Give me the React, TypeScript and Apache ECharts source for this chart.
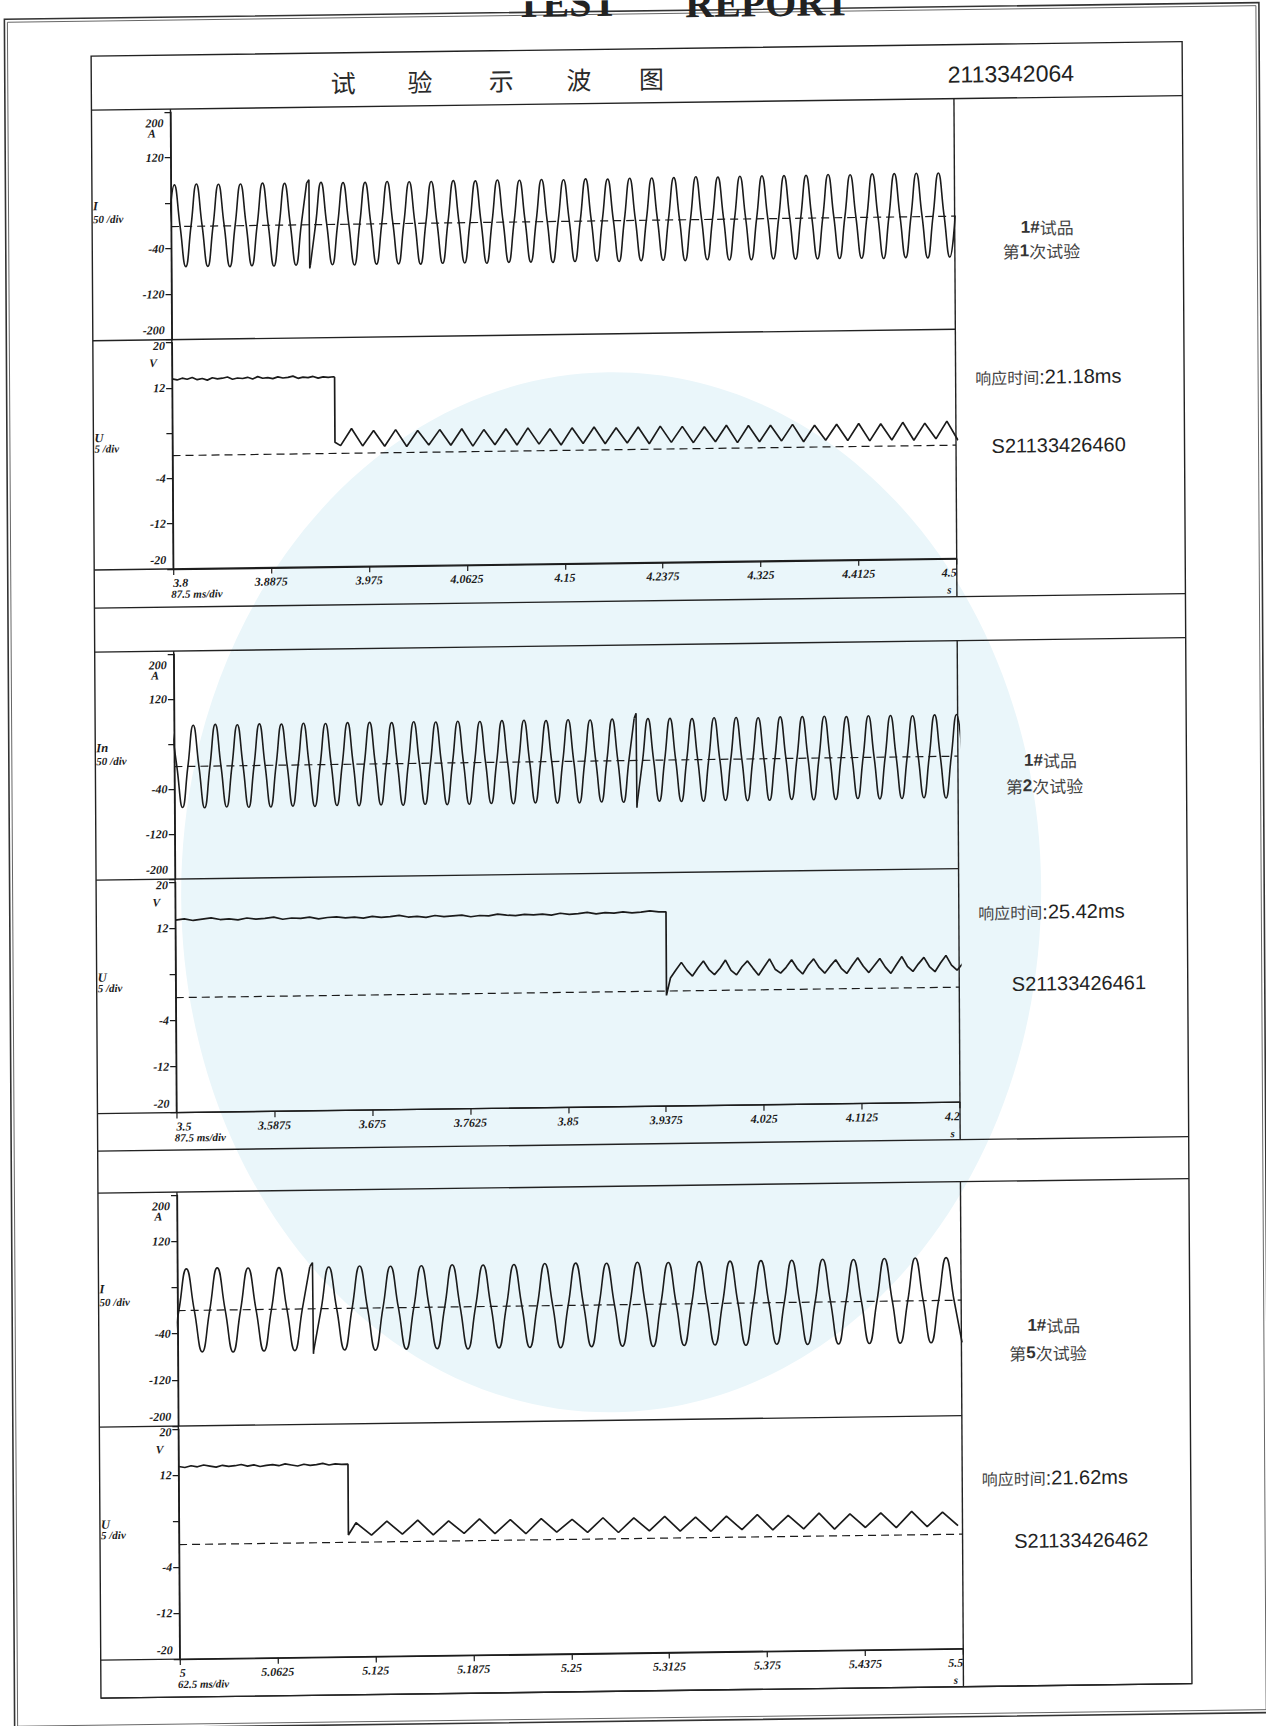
import React, { useEffect, useRef } from 'react';
import * as echarts from 'echarts';

// ---------------- texts ----------------
const TOP_WORDS = ['TEST', 'REPORT'];
const TITLE_CHARS = ['试', '验', '示', '波', '图'];
const REPORT_NO = '2113342064';
const SAMPLE_NAME = ['1#试品', '1#试品', '1#试品'];
const TRIAL_NO = ['1', '2', '5'];
const RESPONSE_MS = ['21.18', '25.42', '21.62'];
const SERIAL_NO = ['S21133426460', 'S21133426461', 'S21133426462'];
const I_AXIS_NAME = ['I', 'In', 'I'];
const X_DIV_LABEL = ['87.5 ms/div', '87.5 ms/div', '62.5 ms/div'];

// ---------------- axes ----------------
const X_MIN = [3.8, 3.5, 5];
const X_MAX = [4.5, 4.2, 5.5];
const X_INTERVAL = [0.0875, 0.0875, 0.0625];
const I_MIN = -200, I_MAX = 200, I_INTERVAL = 80, I_HIDDEN_TICK = 40;
const U_MIN = -20, U_MAX = 20, U_INTERVAL = 8, U_HIDDEN_TICK = 4;

// ---------------- current traces (A), sampled every quarter period ----------------
const I_STEP = 0.004925;
const I1_PRE_T0 = 3.7981;
const I1_PRE = [0, 72, 0, -72, 0, 73, 0, -72, 0, 72, 0, -73, 0, 72, 0, -72, 0, 73, 0, -73, 0, 72, 0, -72, 0, 72];
const I1_GLITCH = [[3.9212, 72], [3.9233, 78], [3.9236, -78], [3.9242, -72]];
const I1_POST_T0 = 3.9242;
const I1_POST = [
  -72, 0, 73, 0, -72, 0, 72, 0, -73, 0, 72, 0, -72, 0, 73, 0, -72, 0, 72, 0,
  -73, 0, 72, 0, -72, 0, 73, 0, -72, 0, 72, 0, -73, 0, 73, 0, -72, 0, 72, 0,
  -72, 0, 73, 0, -73, 0, 72, 0, -72, 0, 73, 0, -72, 0, 72, 0, -73, 0, 73, 0,
  -72, 0, 73, 0, -72, 0, 73, 0, -73, 0, 74, 0, -72, 0, 73, 0, -73, 0, 74, 0,
  -73, 0, 74, 0, -72, 0, 74, 0, -73, 0, 74, 0, -73, 0, 75, 0, -73, 0, 74, 0,
  -73, 0, 75, 0, -74, 0, 75, 0, -73, 0, 75, 0, -74, 0, 75, 0,
  -73, 0,
];

const I2_PRE_T0 = 3.4973;
const I2_PRE = [
  74, 0, -73, 0, 73, 0, -74, 0, 74, 0, -73, 0, 73, 0, -74, 0, 74, 0, -74, 0,
  73, 0, -73, 0, 74, 0, -74, 0, 73, 0, -73, 0, 74, 0, -74, 0, 74, 0, -73, 0,
  73, 0, -74, 0, 74, 0, -73, 0, 73, 0, -74, 0, 74, 0, -74, 0, 73, 0, -73, 0,
  74, 0, -74, 0, 74, 0, -73, 0, 73, 0, -74, 0, 74, 0, -74, 0, 73, 0, -73, 0,
  74, 0, -74, 0, 75,
];
const I2_GLITCH = [[3.911, 75], [3.9127, 84], [3.913, -84], [3.9134, -74]];
const I2_POST_T0 = 3.9134;
const I2_POST = [
  -74, 0, 74, 0, -73, 0, 74, 0, -74, 0, 73, 0, -74, 0, 74, 0, -73, 0, 74, 0,
  -74, 0, 73, 0, -74, 0, 74, 0, -73, 0, 74, 0, -74, 0, 74, 0, -74, 0, 73, 0,
  -73, 0, 74, 0, -74, 0, 74, 0, -74, 0, 73, 0, -73, 0, 74, 0, -74, 0, 74, 0,
];

const I3_PRE_T0 = 4.99585;
const I3_PRE = [-72, 0, 72, 0, -72, 0, 73, 0, -73, 0, 72, 0, -72, 0, 72, 0, -72, 0, 73];
const I3_GLITCH = [[5.0845, 73], [5.0862, 80], [5.0865, -78], [5.0867, -72]];
const I3_POST_T0 = 5.0867;
const I3_POST = [
  -72, 0, 72, 0, -72, 0, 73, 0, -73, 0, 72, 0, -72, 0, 72, 0, -72, 0, 73, 0,
  -73, 0, 72, 0, -72, 0, 72, 0, -72, 0, 73, 0, -73, 0, 73, 0, -72, 0, 72, 0,
  -72, 0, 73, 0, -73, 0, 72, 0, -72, 0, 73, 0, -72, 0, 73, 0, -73, 0, 73, 0,
  -72, 0, 73, 0, -73, 0, 74, 0, -73, 0, 73, 0, -73, 0, 74, 0, -73, 0, 74, 0,
  -73, 0, 74, 0, -73,
];

// ---------------- voltage traces (V) ----------------
const U_HIGH_STEP = [0.0045, 0.008, 0.004];
const U1_HIGH = [
  13.6, 13.4, 13.7, 13.5, 13.8, 13.4, 13.6, 13.3, 13.7, 13.5,
  13.6, 13.8, 13.4, 13.6, 13.5, 13.7, 13.4, 13.8, 13.5, 13.6,
  13.4, 13.7, 13.5, 13.6, 13.8, 13.4, 13.6, 13.5, 13.7, 13.4,
  13.6, 13.5, 13.6,
];
const U2_HIGH = [
  13.4, 13.6, 13.3, 13.5, 13.7, 13.4, 13.5, 13.3, 13.6, 13.4,
  13.5, 13.7, 13.3, 13.5, 13.4, 13.6, 13.3, 13.5, 13.6, 13.4,
  13.5, 13.3, 13.6, 13.4, 13.5, 13.7, 13.4, 13.5, 13.3, 13.6,
  13.4, 13.5, 13.6, 13.3, 13.5, 13.4, 13.7, 13.5, 13.4, 13.6,
  13.5, 13.6, 13.4, 13.7, 13.5, 13.6, 13.8, 13.5, 13.7, 13.6,
  13.8, 13.6, 13.7, 13.9, 13.7,
];
const U3_HIGH = [
  13.5, 13.3, 13.6, 13.4, 13.7, 13.5, 13.3, 13.6, 13.4, 13.5,
  13.7, 13.4, 13.6, 13.3, 13.5, 13.6, 13.4, 13.7, 13.5, 13.3,
  13.6, 13.4, 13.5, 13.7, 13.4, 13.6, 13.5,
];
const DROP_T = [3.9452, 3.9384, 5.1081];
const DROP_HIGH = [13.5, 13.7, 13.5];
const DROP_LOW = [2.0, -0.8, 1.2];
const RIPPLE_T0 = [3.9502, 3.942, 5.113];
const RIPPLE_STEP = [0.00985, 0.004925, 0.00985];
const U1_RIPPLE = [
  1.4, 4.4, 1.3, 4.0, 1.2, 4.1, 1.1, 3.9, 1.3, 4.0,
  1.2, 4.1, 1.0, 3.9, 1.2, 4.0, 1.1, 4.1, 1.2, 3.9,
  1.0, 4.0, 1.2, 4.1, 1.1, 3.9, 1.2, 4.0, 1.0, 4.1,
  1.2, 4.0, 1.1, 3.9, 1.2, 4.1, 1.0, 4.0, 1.1, 4.0,
  1.2, 4.1, 1.0, 3.9, 1.2, 4.0, 1.1, 4.1, 1.0, 4.0,
  1.1, 4.2, 1.0, 4.0, 1.2, 4.3, 0.9,
];
const U2_RIPPLE = [
  2.2, 3.6, 4.9, 3.5, 2.5, 3.9, 5.1, 3.6, 2.7, 3.8, 5.2, 3.4, 2.6, 4.0, 5.0, 3.7,
  2.5, 3.9, 5.3, 3.5, 2.8, 3.8, 5.1, 3.6, 2.6, 4.1, 5.2, 3.7, 2.7, 3.9, 5.0, 3.5,
  2.6, 4.0, 5.3, 3.8, 2.7, 3.9, 5.1, 3.6, 2.5, 4.0, 5.4, 3.7, 2.8, 4.1, 5.2, 3.6,
  2.7, 4.2, 5.5, 3.8, 2.9, 4.0,
];
const U3_RIPPLE = [
  3.3, 1.1, 3.5, 1.2, 3.6, 1.0, 3.4, 1.2, 3.7, 1.1,
  3.5, 1.0, 3.6, 1.2, 3.4, 1.1, 3.6, 1.0, 3.5, 1.2,
  3.7, 1.1, 3.5, 1.0, 3.6, 1.2, 3.8, 1.1, 3.6, 1.2,
  3.9, 1.1, 3.7, 1.3, 3.8, 1.2, 4.0, 1.3, 3.8, 1.4,
];

const CURRENT = [
  { preT0: I1_PRE_T0, pre: I1_PRE, glitch: I1_GLITCH, postT0: I1_POST_T0, post: I1_POST },
  { preT0: I2_PRE_T0, pre: I2_PRE, glitch: I2_GLITCH, postT0: I2_POST_T0, post: I2_POST },
  { preT0: I3_PRE_T0, pre: I3_PRE, glitch: I3_GLITCH, postT0: I3_POST_T0, post: I3_POST },
];
const VOLT_HIGH = [U1_HIGH, U2_HIGH, U3_HIGH];
const VOLT_RIPPLE = [U1_RIPPLE, U2_RIPPLE, U3_RIPPLE];

// ---------------- layout (page pixels) ----------------
const PANEL_TOP = [103, 645, 1186];
const PANEL_SEP = [333.6, 873, 1420];
const PANEL_XROW = [562.8, 1106.5, 1653];
const PANEL_BOTTOM = [601, 1144, 1691];
const TABLE_L = 96, TABLE_R = 1187, TABLE_T = 49;
const PLOT_L = 175, PLOT_R = 958.5;
const NAME_Y = [232.5, 765.5, 1330.5];
const TRIAL_Y = [256, 791, 1358];
const RESP_Y = [382.1, 917.1, 1483.1];
const RESP_X = [978, 978, 978];
const SERIAL_Y = [450.7, 989, 1546];
const SERIAL_X = [994, 1011, 1010];
const TITLE_X = [348, 424.7, 506, 583.7, 656.2];

const SERIF = '"Liberation Serif", "Times New Roman", serif';
const SANS = '"Liberation Sans", Arial, sans-serif';
const CJK = '"Noto Sans CJK SC", sans-serif';
const INK = '#1b1b1b';

function pts(t0: number, step: number, vals: number[]) {
  return vals.map((v, i) => [t0 + i * step, v]);
}

function txt(x: number, y: number, text: string, o: any = {}) {
  const align = o.align || 'left';
  const valign = o.verticalAlign || 'middle';
  return {
    type: 'text',
    x,
    y,
    silent: true,
    style: {
      text,
      fill: INK,
      fontSize: 11.5,
      fontFamily: SERIF,
      fontStyle: 'italic',
      fontWeight: 'bold',
      ...o,
      align,
      verticalAlign: valign,
      textAlign: align,
      textVerticalAlign: valign,
    },
  };
}

function ln(x1: number, y1: number, x2: number, y2: number, w = 1.4) {
  return { type: 'line', silent: true, shape: { x1, y1, x2, y2 }, style: { stroke: '#222', lineWidth: w } };
}

const zeroLine = {
  silent: true,
  symbol: ['none', 'none'],
  label: { show: false },
  lineStyle: { type: [8, 5], color: INK, width: 1.2 },
  data: [{ yAxis: 0 }],
  animation: false,
};

function yLabel(hidden: number, max: number, min: number, topLH: number, botLH: number) {
  return {
    margin: 7,
    formatter: (v: number) => {
      if (v === hidden) return '';
      if (v === max) return `{t| }\n{b|${v}}`;
      if (v === min) return `{b|${v}}\n{d| }`;
      return `{b|${v}}`;
    },
    rich: {
      b: { fontSize: 12, fontFamily: SERIF, fontStyle: 'italic', fontWeight: 'bold', color: INK, lineHeight: 12 },
      t: { fontSize: 1, lineHeight: topLH },
      d: { fontSize: 1, lineHeight: botLH },
    },
  };
}

function buildOption() {
  const grid: any[] = [];
  const xAxis: any[] = [];
  const yAxis: any[] = [];
  const series: any[] = [];
  const g: any[] = [];

  // watermark
  g.push({ type: 'ellipse', silent: true, z: -10, shape: { cx: 611, cy: 892, rx: 430, ry: 520 }, style: { fill: '#eaf6fa' } });

  // outer double border
  g.push({ type: 'rect', silent: true, shape: { x: 9.5, y: 11, width: 1254.5, height: 1710 }, style: { fill: 'none', stroke: '#333', lineWidth: 1.6 } });
  g.push({ type: 'rect', silent: true, shape: { x: 12.5, y: 14, width: 1248.5, height: 1704 }, style: { fill: 'none', stroke: '#555', lineWidth: 0.9 } });

  // heading above frame, clipped by the page edge as in the scan
  g.push(txt(572, 2, TOP_WORDS[0], { fontSize: 40, fontWeight: 'bold', fontStyle: 'normal', align: 'center', fill: '#222' }));
  g.push(txt(773, 4.5, TOP_WORDS[1], { fontSize: 40, fontWeight: 'bold', fontStyle: 'normal', align: 'center', fill: '#222' }));

  // table frame + header
  g.push({ type: 'rect', silent: true, shape: { x: TABLE_L, y: TABLE_T, width: TABLE_R - TABLE_L, height: PANEL_BOTTOM[2] - TABLE_T }, style: { fill: 'none', stroke: '#222', lineWidth: 1.4 } });
  g.push(ln(TABLE_L, PANEL_TOP[0], TABLE_R, PANEL_TOP[0]));
  TITLE_CHARS.forEach((c, i) =>
    g.push(txt(TITLE_X[i], 78, c, { fontSize: 25, fontFamily: CJK, fontStyle: 'normal', fontWeight: 'normal', align: 'center', fill: '#2a2a2a' }))
  );
  g.push(txt(1078.7, 79, REPORT_NO, { fontSize: 23, fontFamily: SANS, fontStyle: 'normal', fontWeight: 'normal', align: 'right', fill: '#222' }));

  for (let p = 0; p < 3; p++) {
    const T = PANEL_TOP[p], S = PANEL_SEP[p], X = PANEL_XROW[p], B = PANEL_BOTTOM[p];

    // table lines of the panel
    g.push(ln(TABLE_L, S, PLOT_R, S));
    g.push(ln(TABLE_L, X, PLOT_R, X));
    g.push(ln(TABLE_L, B, TABLE_R, B));
    if (p < 2) g.push(ln(TABLE_L, PANEL_TOP[p + 1], TABLE_R, PANEL_TOP[p + 1]));
    g.push(ln(PLOT_L, T, PLOT_L, X));
    g.push(ln(PLOT_R, T, PLOT_R, B));

    // axis names
    g.push(txt(160, T + 24, 'A', { align: 'right' }));
    g.push(txt(97, T + 96, I_AXIS_NAME[p], { fontSize: 12.5 }));
    g.push(txt(97, T + 109, '50 /div', { fontSize: 11 }));
    g.push(txt(160, S + 23, 'V', { align: 'right' }));
    g.push(txt(97, S + 97.5, 'U', { fontSize: 12.5 }));
    g.push(txt(97, S + 108, '5 /div', { fontSize: 11 }));
    g.push(txt(173, X + 25, X_DIV_LABEL[p], { fontSize: 11 }));
    g.push(txt(953, X + 31, 's', { fontSize: 11, align: 'right' }));

    // right column
    const richNB = {
      b: { fontSize: 17, fontFamily: SANS, fontWeight: 'bold', fontStyle: 'normal', fill: '#333', color: '#333', lineHeight: 18 },
      n: { fontSize: 17, fontFamily: CJK, fontWeight: 'normal', fontStyle: 'normal', fill: '#444', color: '#444', lineHeight: 18 },
    };
    g.push(txt(1051, NAME_Y[p], `{b|${SAMPLE_NAME[p].slice(0, 2)}}{n|${SAMPLE_NAME[p].slice(2)}}`, {
      align: 'center', fontStyle: 'normal', fontWeight: 'normal', fontSize: 17, rich: richNB,
    }));
    g.push(txt(1045, TRIAL_Y[p], `{n|第}{b|${TRIAL_NO[p]}}{n|次试验}`, {
      align: 'center', fontStyle: 'normal', fontWeight: 'normal', fontSize: 17, rich: richNB,
    }));
    g.push(txt(RESP_X[p], RESP_Y[p], `{c|响应时间}{l|:${RESPONSE_MS[p]}ms}`, {
      fontStyle: 'normal', fontWeight: 'normal', fontSize: 18,
      rich: {
        c: { fontSize: 16, fontFamily: CJK, fontStyle: 'normal', fontWeight: 'normal', fill: '#444', color: '#444', lineHeight: 20 },
        l: { fontSize: 20, fontFamily: SANS, fontStyle: 'normal', fontWeight: 'normal', fill: '#222', color: '#222', lineHeight: 20 },
      },
    }));
    g.push(txt(SERIAL_X[p], SERIAL_Y[p], SERIAL_NO[p], { fontSize: 20, fontFamily: SANS, fontStyle: 'normal', fontWeight: 'normal', fill: '#222' }));

    // grids
    grid.push({ left: PLOT_L, width: PLOT_R - PLOT_L, top: T + 3, height: S - T - 3 });
    grid.push({ left: PLOT_L, width: PLOT_R - PLOT_L, top: S + 3, height: X - S - 3 });

    xAxis.push({ gridIndex: 2 * p, type: 'value', min: X_MIN[p], max: X_MAX[p], interval: X_INTERVAL[p], show: false });
    xAxis.push({
      gridIndex: 2 * p + 1,
      type: 'value',
      min: X_MIN[p],
      max: X_MAX[p],
      interval: X_INTERVAL[p],
      axisLine: { show: true, onZero: false, lineStyle: { color: INK, width: 1.3 } },
      axisTick: { show: true, inside: false, length: 6, lineStyle: { color: INK, width: 1.2 } },
      splitLine: { show: false },
      axisLabel: {
        margin: 8,
        fontSize: 12,
        fontFamily: SERIF,
        fontStyle: 'italic',
        fontWeight: 'bold',
        color: INK,
        showMinLabel: true,
        showMaxLabel: true,
        alignMinLabel: 'left',
        alignMaxLabel: 'right',
        formatter: (v: number) => String(parseFloat(v.toFixed(4))),
      },
    });

    const yCommon = {
      type: 'value',
      axisLine: { show: true, onZero: false, lineStyle: { color: INK, width: 1.3 } },
      axisTick: { show: true, inside: false, length: 6, lineStyle: { color: INK, width: 1.2 } },
      splitLine: { show: false },
    };
    yAxis.push({ ...yCommon, gridIndex: 2 * p, min: I_MIN, max: I_MAX, interval: I_INTERVAL, axisLabel: yLabel(I_HIDDEN_TICK, I_MAX, I_MIN, 22, 19) });
    yAxis.push({ ...yCommon, gridIndex: 2 * p + 1, min: U_MIN, max: U_MAX, interval: U_INTERVAL, axisLabel: yLabel(U_HIDDEN_TICK, U_MAX, U_MIN, 6, 18) });

    // current
    const c = CURRENT[p];
    const lineStyle = { color: INK, width: 1.6 };
    series.push({
      type: 'line', xAxisIndex: 2 * p, yAxisIndex: 2 * p, data: pts(c.preT0, I_STEP, c.pre),
      smooth: 0.5, symbol: 'none', lineStyle, silent: true, markLine: zeroLine,
    });
    series.push({ type: 'line', xAxisIndex: 2 * p, yAxisIndex: 2 * p, data: c.glitch, smooth: false, symbol: 'none', lineStyle, silent: true });
    series.push({
      type: 'line', xAxisIndex: 2 * p, yAxisIndex: 2 * p, data: pts(c.postT0, I_STEP, c.post),
      smooth: 0.5, symbol: 'none', lineStyle, silent: true,
    });

    // voltage
    const vData = [
      ...pts(X_MIN[p], U_HIGH_STEP[p], VOLT_HIGH[p]),
      [DROP_T[p], DROP_HIGH[p]],
      [DROP_T[p], DROP_LOW[p]],
      ...pts(RIPPLE_T0[p], RIPPLE_STEP[p], VOLT_RIPPLE[p]),
    ];
    series.push({
      type: 'line', xAxisIndex: 2 * p + 1, yAxisIndex: 2 * p + 1, data: vData,
      smooth: false, symbol: 'none', lineStyle: { color: INK, width: 1.7 }, silent: true, markLine: zeroLine,
    });
  }

  return {
    animation: false,
    backgroundColor: 'transparent',
    textStyle: { fontFamily: SERIF },
    grid,
    xAxis,
    yAxis,
    series,
    graphic: { elements: g },
  };
}

export default function App() {
  const ref = useRef<HTMLDivElement>(null);
  useEffect(() => {
    if (!ref.current) return;
    const chart = echarts.init(ref.current, null, { renderer: 'svg' });
    chart.setOption(buildOption() as any);
    return () => chart.dispose();
  }, []);
  return (
    <div style={{ position: 'absolute', left: 0, top: 0, width: 1266, height: 1726, overflow: 'hidden', background: '#fff' }}>
      <div
        ref={ref}
        style={{
          width: 1266,
          height: 1726,
          transform: 'matrix(1, -0.0133, 0.006, 1, 0, 0)',
          transformOrigin: '633px 863px',
        }}
      />
    </div>
  );
}
